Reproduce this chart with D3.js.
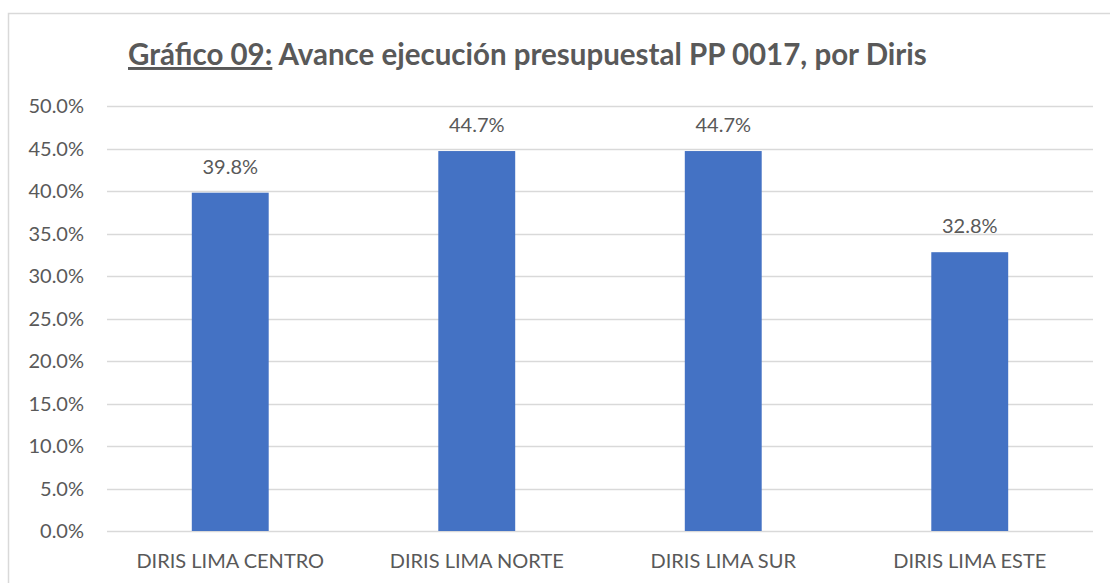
<!DOCTYPE html>
<html>
<head>
<meta charset="utf-8">
<script src="https://cdn.jsdelivr.net/npm/d3@7"></script>
<style>
  body { margin: 0; background: #fff; }
  text { font-family: Lato, "Open Sans", sans-serif; fill: #595959; }
</style>
</head>
<body>
<div id="graphic"></div>
<script>
var categories = ["DIRIS LIMA CENTRO", "DIRIS LIMA NORTE", "DIRIS LIMA SUR", "DIRIS LIMA ESTE"];
var values = [0.398, 0.447, 0.447, 0.328];
var tick_values = [0, 0.05, 0.10, 0.15, 0.20, 0.25, 0.30, 0.35, 0.40, 0.45, 0.50];

var chart_w = 1110, chart_h = 583;
var plot_left = 107, plot_right = 1093, plot_top = 106, plot_bottom = 531;

var svg = d3.select("#graphic")
    .append("svg")
    .attr("width", chart_w)
    .attr("height", chart_h);

// chart frame (only top and left visible in the crop)
svg.append("path")
    .attr("d", "M8.5," + chart_h + "V13.5H" + chart_w)
    .attr("fill", "none")
    .attr("stroke", "#d9d9d9")
    .attr("stroke-width", 1.5);

var x = d3.scaleBand()
    .domain(categories)
    .range([plot_left, plot_right])
    .paddingInner(0.688)
    .paddingOuter(0.344);

var y = d3.scaleLinear()
    .domain([0, 0.5])
    .range([plot_bottom, plot_top]);

// gridlines
svg.selectAll(".grid")
    .data(tick_values)
    .enter().append("line")
    .attr("x1", plot_left)
    .attr("x2", plot_right)
    .attr("y1", function(d) { return Math.round(y(d)) + 0.5; })
    .attr("y2", function(d) { return Math.round(y(d)) + 0.5; })
    .attr("stroke", "#d9d9d9")
    .attr("stroke-width", 1.3);

// y labels
svg.selectAll(".ylab")
    .data(tick_values)
    .enter().append("text")
    .attr("x", 84)
    .attr("y", function(d) { return y(d); })
    .attr("dy", "0.35em")
    .attr("text-anchor", "end")
    .style("font-size", "20px")
    .text(function(d) { return d3.format(".1%")(d); });

// bars
svg.selectAll(".bar")
    .data(values)
    .enter().append("rect")
    .attr("x", function(d, i) { return x(categories[i]); })
    .attr("y", function(d) { return y(d); })
    .attr("width", x.bandwidth())
    .attr("height", function(d) { return y(0) - y(d); })
    .attr("fill", "#4472c4");

// value labels
svg.selectAll(".val")
    .data(values)
    .enter().append("text")
    .attr("x", function(d, i) { return x(categories[i]) + x.bandwidth() / 2; })
    .attr("y", function(d) { return y(d) - 19; })
    .attr("text-anchor", "middle")
    .style("font-size", "20px")
    .text(function(d) { return d3.format(".1%")(d); });

// category labels
svg.selectAll(".cat")
    .data(categories)
    .enter().append("text")
    .attr("x", function(d) { return x(d) + x.bandwidth() / 2; })
    .attr("y", 568)
    .attr("text-anchor", "middle")
    .style("font-size", "20px")
    .text(function(d) { return d; });

// title
var title = svg.append("text")
    .attr("x", 128)
    .attr("y", 65)
    .style("font-size", "29.5px")
    .style("font-weight", "bold");
title.append("tspan")
    .style("text-decoration", "underline")
    .text("Gráfico 09:");
title.append("tspan")
    .text(" Avance ejecución presupuestal PP 0017, por Diris");
</script>
</body>
</html>
